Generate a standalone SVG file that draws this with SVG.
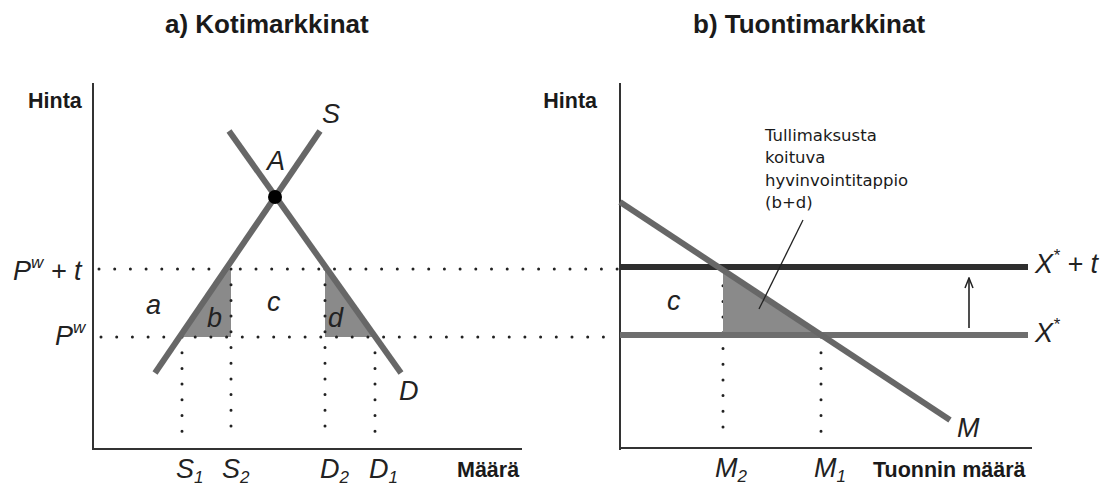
<svg xmlns="http://www.w3.org/2000/svg" width="1112" height="490" viewBox="0 0 1112 490">
<style>
.title{font-family:"Liberation Sans",Arial,sans-serif;font-weight:bold;font-size:26px;fill:#1a1a1a}
.axlab{font-family:"Liberation Sans",Arial,sans-serif;font-weight:bold;font-size:21.5px;fill:#1a1a1a}
.math{font-family:"Liberation Sans",Arial,sans-serif;font-style:italic;font-size:27px;fill:#222}
.sub{font-size:17px}
.note{font-family:"DejaVu Sans",Verdana,sans-serif;font-size:16.5px;fill:#1a1a1a}
.axis{stroke:#333;stroke-width:2;fill:none}
.curve{stroke:#676767;stroke-width:6;fill:none}
.dots{stroke:#222;stroke-width:3;stroke-linecap:round;stroke-dasharray:0 15.7;fill:none}
.shade{fill:#8a8a8a}
</style>
<defs>
<marker id="arr" markerWidth="12" markerHeight="10" refX="11" refY="5" orient="auto" markerUnits="userSpaceOnUse" viewBox="0 0 12 10">
<path d="M1,1 L11,5 L1,9" fill="none" stroke="#222" stroke-width="1.5"/>
</marker>
</defs>
<rect width="1112" height="490" fill="#fff"/>

<g id="title-a"><text class="title" x="165" y="33">a) Kotimarkkinat</text></g>
<g id="title-b"><text class="title" x="693" y="33">b) Tuontimarkkinat</text></g>

<!-- Panel a -->
<g id="panel-a-shading">
<polygon class="shade" points="180,337 226,269 231,269 231,337"/>
<polygon class="shade" points="325,269 327,269 375,337 325,337"/>
</g>
<g id="connectors">
<line class="dots" x1="99" y1="269" x2="620" y2="269"/>
<line class="dots" x1="101" y1="337" x2="612" y2="337"/>
<line class="dots" x1="182" y1="337" x2="182" y2="441"/>
<line class="dots" x1="231" y1="269" x2="231" y2="441"/>
<line class="dots" x1="325" y1="269" x2="325" y2="441"/>
<line class="dots" x1="375" y1="337" x2="375" y2="441"/>
<line class="dots" x1="723" y1="270" x2="723" y2="441"/>
<line class="dots" x1="821" y1="337" x2="821" y2="441"/>
</g>
<g id="panel-a-axes">
<line class="axis" x1="93" y1="83" x2="93" y2="450"/>
<line class="axis" x1="92" y1="449" x2="522" y2="449"/>
<text class="axlab" x="28" y="108">Hinta</text>
<text class="axlab" x="457" y="477">Määrä</text>
</g>
<g id="curve-S"><line class="curve" x1="155" y1="373" x2="320" y2="131"/><text class="math" x="322" y="123">S</text></g>
<g id="curve-D"><line class="curve" x1="229" y1="131" x2="401" y2="373"/><text class="math" x="399" y="400">D</text></g>
<g id="point-A"><circle cx="275" cy="197" r="7" fill="#000"/><text class="math" x="267" y="170">A</text></g>
<g id="panel-a-labels">
<text class="math" x="13" y="280">P<tspan class="sub" dy="-12">w</tspan><tspan dy="12"> + t</tspan></text>
<text class="math" x="55" y="345">P<tspan class="sub" dy="-12">w</tspan></text>
<text class="math" x="146" y="314">a</text>
<text class="math" x="207" y="327">b</text>
<text class="math" x="267" y="311">c</text>
<text class="math" x="328" y="327">d</text>
<text class="math" x="176" y="478">S<tspan class="sub" dy="5">1</tspan></text>
<text class="math" x="222" y="478">S<tspan class="sub" dy="5">2</tspan></text>
<text class="math" x="320" y="478">D<tspan class="sub" dy="5">2</tspan></text>
<text class="math" x="369" y="478">D<tspan class="sub" dy="5">1</tspan></text>
</g>

<!-- Panel b -->
<g id="panel-b-shading"><polygon class="shade" points="723,270 723,335 821,335"/></g>
<g id="panel-b-axes">
<line class="axis" x1="620" y1="83" x2="620" y2="450"/>
<line class="axis" x1="619" y1="448" x2="1032" y2="448"/>
<text class="axlab" x="597" y="108" text-anchor="end">Hinta</text>
<text class="axlab" x="873" y="477">Tuonnin määrä</text>
</g>
<g id="line-Xt"><line x1="620" y1="267" x2="1028" y2="267" stroke="#2e2e2e" stroke-width="6"/>
<text class="math" x="1035" y="273">X<tspan class="sub" dy="-12">*</tspan><tspan dy="12"> + t</tspan></text></g>
<g id="line-X"><line x1="620" y1="335" x2="1028" y2="335" stroke="#6e6e6e" stroke-width="6"/>
<text class="math" x="1035" y="342">X<tspan class="sub" dy="-12">*</tspan></text></g>
<g id="curve-M"><line class="curve" x1="620" y1="202" x2="950" y2="420"/><text class="math" x="957" y="437">M</text></g>
<g id="panel-b-labels">
<text class="math" x="667" y="310">c</text>
<text class="math" x="715" y="477">M<tspan class="sub" dy="5">2</tspan></text>
<text class="math" x="814" y="477">M<tspan class="sub" dy="5">1</tspan></text>
</g>
<g id="shift-arrow"><line x1="969" y1="328" x2="969" y2="278" stroke="#222" stroke-width="1.6" marker-end="url(#arr)"/></g>
<g id="note">
<line x1="803" y1="220" x2="759" y2="309" stroke="#222" stroke-width="1.3"/>
<text class="note" x="765" y="141">Tullimaksusta</text>
<text class="note" x="765" y="163">koituva</text>
<text class="note" x="765" y="186">hyvinvointitappio</text>
<text class="note" x="765" y="208">(b+d)</text>
</g>
</svg>
